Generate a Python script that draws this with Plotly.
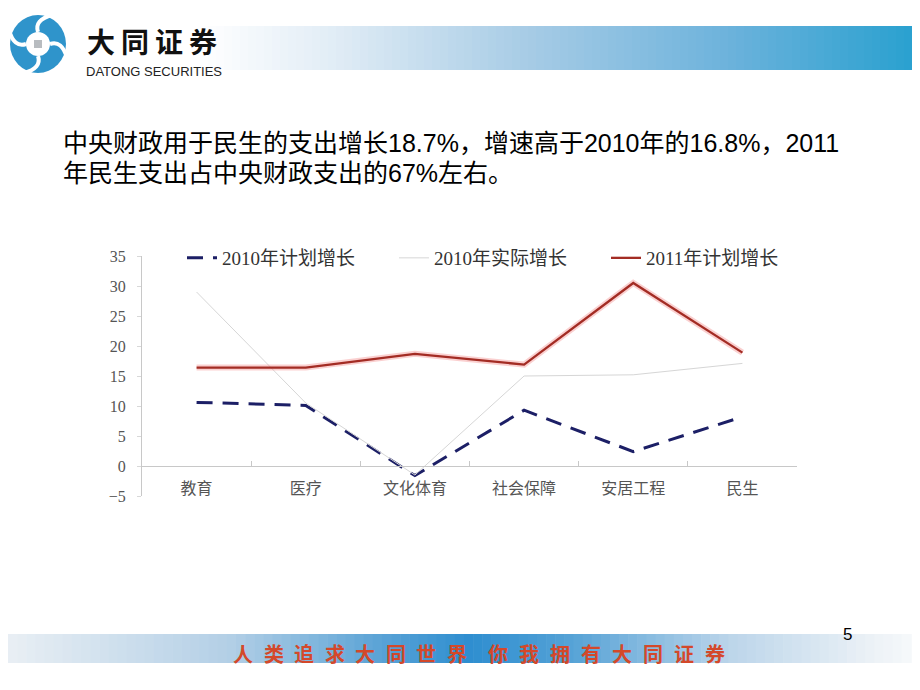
import plotly.graph_objects as go

# ---------------- data ----------------
categories = ['教育', '医疗', '文化体育', '社会保障', '安居工程', '民生']
plan_2010 = [10.6, 10.1, -1.6, 9.3, 2.4, 8.2]
actual_2010 = [29.0, 10.5, -1.5, 15.0, 15.2, 17.1]
plan_2011 = [16.4, 16.4, 18.7, 16.9, 30.5, 18.9]
series_names = ['2010年计划增长', '2010年实际增长', '2011年计划增长']
y_ticks = [-5, 0, 5, 10, 15, 20, 25, 30, 35]

heading_1 = '中央财政用于民生的支出增长18.7%，增速高于2010年的16.8%，2011'
heading_2 = '年民生支出占中央财政支出的67%左右。'
brand_cn = '大同证券'
brand_en = 'DATONG SECURITIES'
slogan_1 = '人类追求大同世界'
slogan_2 = '你我拥有大同证券'
page_no = '5'

OFF = 8  # page body margin
W, H = 920 - OFF, 690 - OFF


def px(x):
    return (x - OFF) / W


def py(y):
    return 1 - (y - OFF) / H


def hexmix(c1, c2, t):
    a = [int(c1[i:i + 2], 16) for i in (1, 3, 5)]
    b = [int(c2[i:i + 2], 16) for i in (1, 3, 5)]
    return 'rgb(%d,%d,%d)' % tuple(round(a[k] + (b[k] - a[k]) * t) for k in range(3))


def gradient(stops, x0, x1, y0, y1, n):
    shp = []
    step = (x1 - x0) / n
    for i in range(n):
        xm = x0 + (i + 0.5) * step
        col = stops[-1][1]
        for j in range(len(stops) - 1):
            if stops[j][0] <= xm <= stops[j + 1][0]:
                t = (xm - stops[j][0]) / (stops[j + 1][0] - stops[j][0])
                col = hexmix(stops[j][1], stops[j + 1][1], t)
                break
        shp.append(dict(type='rect', xref='paper', yref='paper',
                        x0=px(x0 + i * step), x1=px(x0 + (i + 1) * step + 0.6),
                        y0=py(y1), y1=py(y0), fillcolor=col, line_width=0,
                        layer='below'))
    return shp


fig = go.Figure()

cjk_serif = 'Liberation Serif, Times New Roman, Noto Sans CJK SC'

fig.add_trace(go.Scatter(x=categories, y=plan_2010, name=series_names[0], mode='lines',
                         line=dict(color='#1C1F66', width=3, dash='16px,10px')))
fig.add_trace(go.Scatter(x=categories, y=actual_2010, name=series_names[1], mode='lines',
                         line=dict(color='#D6D6D6', width=1)))
fig.add_trace(go.Scatter(x=categories, y=plan_2011, mode='lines', showlegend=False,
                         hoverinfo='skip', line=dict(color='rgba(240,120,120,0.35)', width=6)))
fig.add_trace(go.Scatter(x=categories, y=plan_2011, name=series_names[2], mode='lines',
                         line=dict(color='#A32C24', width=2.3)))

# plot area in pixels (window coordinates)
L, R, T, B = 142, 797, 256, 496
y_lo, y_hi = -5, 35
zero_frac = py(B) + (0 - y_lo) / (y_hi - y_lo) * (py(T) - py(B))

shapes = []
# header gradient bar
shapes += gradient([(200, '#FFFFFF'), (330, '#E2EDF6'), (520, '#A9CDE6'),
                    (720, '#6FB3DC'), (920, '#27A0CF')], 200, 920, 26, 70, 90)
# footer gradient bar
shapes += gradient([(8, '#E9EFF4'), (230, '#B3CFE6'), (380, '#5AA3D6'), (470, '#2E8ED0'),
                    (570, '#55A2D6'), (730, '#BCD5EA'), (880, '#EEF3F7'), (920, '#F8FAFC')],
                   8, 920, 634, 663, 100)

# logo (pinwheel symbol)
cx, cy = 38, 44
shapes.append(dict(type='circle', xref='paper', yref='paper', x0=px(cx - 28), x1=px(cx + 28),
                   y0=py(cy + 29), y1=py(cy - 29), fillcolor='#2F94CB', line_width=0))
shapes.append(dict(type='circle', xref='paper', yref='paper', x0=px(cx - 12), x1=px(cx + 12),
                   y0=py(cy + 12), y1=py(cy - 12), fillcolor='white', line_width=0))
for (ax, ay, bx, by, qx, qy) in [(0, -12, 14, -29, -4, -24), (12, 0, 29, 14, 24, -4),
                                 (0, 12, -14, 29, 4, 24), (-12, 0, -29, -14, -24, 4)]:
    path = 'M %f,%f Q %f,%f %f,%f' % (px(cx + ax), py(cy + ay), px(cx + qx), py(cy + qy),
                                       px(cx + bx), py(cy + by))
    shapes.append(dict(type='path', xref='paper', yref='paper', path=path,
                       line=dict(color='white', width=4)))
shapes.append(dict(type='rect', xref='paper', yref='paper', x0=px(cx - 4), x1=px(cx + 4),
                   y0=py(cy + 4), y1=py(cy - 4), fillcolor='#B8BCC0', line_width=0))

annotations = [
    dict(text=brand_en, x=px(84), y=py(71), xanchor='left', yanchor='middle',
         font=dict(family='Liberation Sans Narrow, Liberation Sans', size=13, color='#222222')),
    dict(text=heading_1, x=px(61), y=py(143), xanchor='left', yanchor='middle',
         font=dict(family='Liberation Sans, Arial, Noto Sans CJK SC', size=25, color='#000000')),
    dict(text=heading_2, x=px(61), y=py(173), xanchor='left', yanchor='middle',
         font=dict(family='Liberation Sans, Arial, Noto Sans CJK SC', size=25, color='#000000')),
    dict(text=page_no, x=px(847), y=py(634), xanchor='center', yanchor='middle',
         font=dict(family='Liberation Sans, Arial', size=17, color='#000000')),
]
for i, ch in enumerate(brand_cn):
    annotations.append(dict(text=ch, x=px(101 + i * 34), y=py(41), xanchor='center',
                            yanchor='middle', font=dict(family='Noto Sans CJK SC', size=28,
                                                        color='#111111', weight='bold')))
for i, ch in enumerate(slogan_1):
    annotations.append(dict(text=ch, x=px(243 + i * 30.5), y=py(653), xanchor='center',
                            yanchor='middle', font=dict(family='Noto Sans CJK SC', size=20,
                                                        color='#D4482A', weight='bold')))
for i, ch in enumerate(slogan_2):
    annotations.append(dict(text=ch, x=px(498 + i * 31), y=py(653), xanchor='center',
                            yanchor='middle', font=dict(family='Noto Sans CJK SC', size=20,
                                                        color='#D4482A', weight='bold')))
for a in annotations:
    a.update(xref='paper', yref='paper', showarrow=False)

fig.update_layout(
    width=W, height=H,
    margin=dict(l=0, r=0, t=0, b=0),
    paper_bgcolor='white', plot_bgcolor='rgba(0,0,0,0)',
    shapes=shapes, annotations=annotations,
    legend=dict(orientation='h', x=px(182), y=py(258), xanchor='left', yanchor='middle',
                font=dict(family=cjk_serif, size=19, color='#333333'),
                entrywidth=167, bgcolor='rgba(0,0,0,0)', borderwidth=0),
    xaxis=dict(domain=[px(L), px(R)], anchor='free', position=zero_frac,
               range=[-0.5, len(categories) - 0.5],
               showline=True, linecolor='#C8C8C8', linewidth=1,
               ticks='inside', tickson='boundaries', ticklen=5, tickcolor='#C8C8C8',
               showgrid=False, zeroline=False, automargin=False,
               tickfont=dict(family='Noto Sans CJK SC', size=16, color='#555555'),
               ticklabelstandoff=8, fixedrange=True),
    yaxis=dict(domain=[py(B), py(T)], range=[y_lo, y_hi], tickvals=y_ticks,
               showline=True, linecolor='#C8C8C8', linewidth=1,
               ticks='outside', ticklen=4, tickcolor='#D8D8D8',
               showgrid=False, zeroline=False, automargin=False,
               tickfont=dict(family=cjk_serif, size=16, color='#555555'),
               ticklabelstandoff=8, fixedrange=True),
)

fig.write_html('out.html')
